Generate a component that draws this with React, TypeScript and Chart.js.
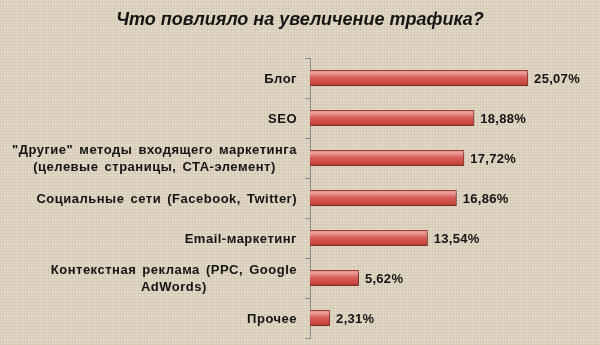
import React, { useEffect, useRef } from "react";
import { Chart, registerables } from "chart.js";

Chart.register(...registerables);

const TITLE = "Что повлияло на увеличение трафика?";
const categories: string[][] = [
  ["Блог"],
  ["SEO"],
  ['"Другие" методы входящего маркетинга', "(целевые страницы, СТА-элемент)"],
  ["Социальные сети (Facebook, Twitter)"],
  ["Email-маркетинг"],
  ["Контекстная реклама (PPC, Google", "AdWords)"],
  ["Прочее"],
];
const values: number[] = [25.07, 18.88, 17.72, 16.86, 13.54, 5.62, 2.31];
const valueLabels: string[] = ["25,07%", "18,88%", "17,72%", "16,86%", "13,54%", "5,62%", "2,31%"];

const FONT = "'Liberation Sans', Arial, sans-serif";

export default function App() {
  const ref = useRef<HTMLCanvasElement | null>(null);

  useEffect(() => {
    document.body.style.margin = "0";
    const canvas = ref.current;
    if (!canvas) return;

    const labelsPlugin = {
      id: "customLabels",
      beforeDatasetsDraw(chart: any) {
        const ctx = chart.ctx;
        ctx.save();
        ctx.shadowColor = "rgba(60,30,20,0.5)";
        ctx.shadowOffsetX = 2;
        ctx.shadowOffsetY = 2;
        ctx.shadowBlur = 3;
      },
      afterDatasetsDraw(chart: any) {
        const ctx = chart.ctx;
        ctx.restore();
        const y = chart.scales.y;
        const x = chart.scales.x;
        ctx.save();
        ctx.fillStyle = "#141414";
        // title
        ctx.font = `italic bold 18px ${FONT}`;
        ctx.textAlign = "center";
        ctx.textBaseline = "middle";
        (ctx as any).letterSpacing = "0px";
        ctx.fillText(TITLE, 300, 20);
        // category labels
        ctx.font = `bold 13px ${FONT}`;
        (ctx as any).letterSpacing = "0.5px";
        (ctx as any).wordSpacing = "2px";
        const rightEdge = chart.chartArea.left - 13;
        categories.forEach((lines, i) => {
          const cy = y.getPixelForValue(i);
          const widths = lines.map((l) => ctx.measureText(l).width);
          const maxW = Math.max(...widths);
          const lh = 16.5;
          const start = cy + 1 - ((lines.length - 1) * lh) / 2;
          lines.forEach((l, j) => {
            ctx.textAlign = "center";
            ctx.fillText(l, rightEdge - maxW / 2, start + j * lh);
          });
        });
        // value labels
        ctx.font = `bold 13px ${FONT}`;
        (ctx as any).letterSpacing = "0.3px";
        (ctx as any).wordSpacing = "0px";
        ctx.textAlign = "left";
        values.forEach((v, i) => {
          const cy = y.getPixelForValue(i);
          const px = x.getPixelForValue(v);
          ctx.fillText(valueLabels[i], px + 6, cy + 1);
        });
        ctx.restore();
      },
    };

    const chart = new Chart(canvas, {
      type: "bar",
      data: {
        labels: categories.map((c) => c.join(" ")),
        datasets: [
          {
            data: values,
            backgroundColor: (c: any) => {
              const ch = c.chart;
              const ys = ch.scales && ch.scales.y;
              if (!ys || c.dataIndex === undefined) return "#d65a57";
              const cy = ys.getPixelForValue(c.dataIndex);
              if (!isFinite(cy)) return "#d65a57";
              const g = ch.ctx.createLinearGradient(0, cy - 8, 0, cy + 8);
              g.addColorStop(0, "#e08a87");
              g.addColorStop(0.2, "#ec9f9b");
              g.addColorStop(0.45, "#d95e5a");
              g.addColorStop(0.85, "#c9463f");
              g.addColorStop(1, "#9b2e2b");
              return g;
            },
            borderColor: "#a63c38",
            borderWidth: 1,
            barPercentage: 0.4,
            categoryPercentage: 1,
          },
        ],
      },
      options: {
        indexAxis: "y",
        animation: false,
        responsive: false,
        maintainAspectRatio: false,
        events: [],
        layout: { padding: { left: 305, right: 29, top: 58, bottom: 7 } },
        plugins: {
          legend: { display: false },
          tooltip: { enabled: false },
          title: { display: false },
        },
        scales: {
          x: { display: false, min: 0, max: 30 },
          y: {
            ticks: { display: false },
            grid: {
              drawOnChartArea: false,
              drawTicks: true,
              tickLength: 5,
              color: "#8a8a8a",
              offset: true,
            },
            border: { display: true, color: "#8a8a8a", width: 1 },
          },
        },
      },
      plugins: [labelsPlugin],
    } as any);

    return () => chart.destroy();
  }, []);

  return (
    <div
      style={{
        width: 600,
        height: 345,
        backgroundColor: "#e0d7c4",
        backgroundImage:
          "repeating-linear-gradient(0deg, rgba(120,100,70,0.08) 0px, rgba(120,100,70,0.08) 1px, transparent 1px, transparent 3px), repeating-linear-gradient(90deg, rgba(120,100,70,0.08) 0px, rgba(120,100,70,0.08) 1px, transparent 1px, transparent 3px)",
      }}
    >
      <canvas ref={ref} width={600} height={345} style={{ display: "block" }} />
    </div>
  );
}
